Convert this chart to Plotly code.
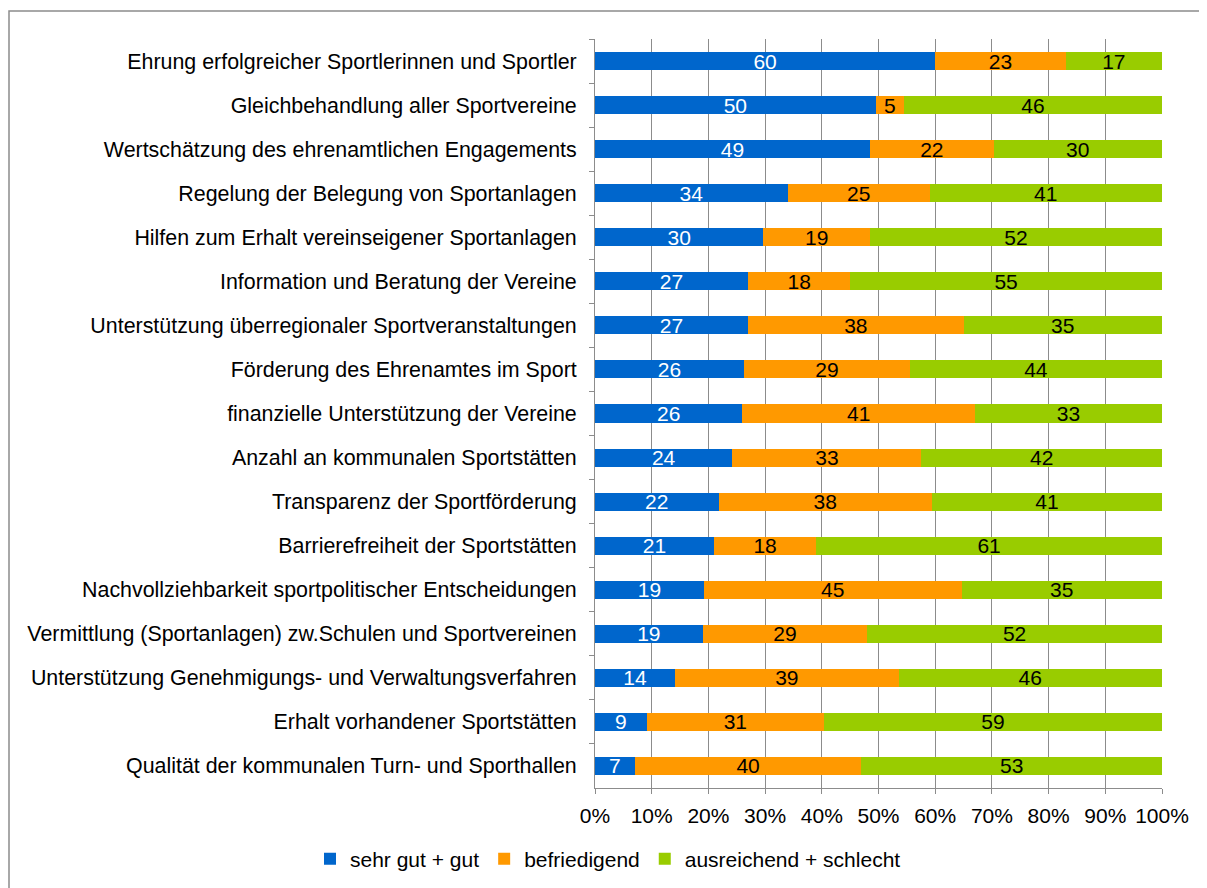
import plotly.graph_objects as go

categories = [
    "Ehrung erfolgreicher Sportlerinnen und Sportler",
    "Gleichbehandlung aller Sportvereine",
    "Wertschätzung des ehrenamtlichen Engagements",
    "Regelung der Belegung von Sportanlagen",
    "Hilfen zum Erhalt vereinseigener Sportanlagen",
    "Information und Beratung der Vereine",
    "Unterstützung überregionaler Sportveranstaltungen",
    "Förderung des Ehrenamtes im Sport",
    "finanzielle Unterstützung der Vereine",
    "Anzahl an kommunalen Sportstätten",
    "Transparenz der Sportförderung",
    "Barrierefreiheit der Sportstätten",
    "Nachvollziehbarkeit sportpolitischer Entscheidungen",
    "Vermittlung (Sportanlagen) zw.Schulen und Sportvereinen",
    "Unterstützung Genehmigungs- und Verwaltungsverfahren",
    "Erhalt vorhandener Sportstätten",
    "Qualität der kommunalen Turn- und Sporthallen",
]
sehr_gut = [60, 50, 49, 34, 30, 27, 27, 26, 26, 24, 22, 21, 19, 19, 14, 9, 7]
befriedigend = [23, 5, 22, 25, 19, 18, 38, 29, 41, 33, 38, 18, 45, 29, 39, 31, 40]
ausreichend = [17, 46, 30, 41, 52, 55, 35, 44, 33, 42, 41, 61, 35, 52, 46, 59, 53]
x_ticks = list(range(0, 101, 10))

FONT = "Liberation Sans, Arial, sans-serif"
FS = 21
series = [
    ("sehr gut + gut", sehr_gut, "#0066CC", "white"),
    ("befriedigend", befriedigend, "#FF9900", "black"),
    ("ausreichend + schlecht", ausreichend, "#99CC00", "black"),
]

# page body has an 8px margin, so the figure is laid out 8px up/left
L, T, R, B = 587, 31, 53, 108
pw, ph = 1207 - L - R, 888 - T - B

fig = go.Figure()
for name, vals, col, tcol in series:
    fig.add_trace(go.Bar(
        y=categories, x=vals, name=name, orientation="h",
        marker=dict(color=col, line=dict(width=0)),
        text=[str(v) for v in vals], textposition="inside",
        insidetextanchor="middle", textangle=0,
        textfont=dict(color=tcol, size=FS, family=FONT),
        hoverinfo="skip",
    ))

fig.update_layout(
    barmode="stack", barnorm="percent", bargap=0.59,
    width=1207, height=888,
    margin=dict(l=L, r=R, t=T, b=B),
    paper_bgcolor="white", plot_bgcolor="white",
    font=dict(family=FONT, size=FS, color="black"),
    uniformtext=dict(mode="show", minsize=FS),
    legend=dict(orientation="h", x=(302 - L) / pw, xanchor="left",
                y=(ph + T - 851) / ph, yanchor="middle",
                font=dict(size=FS), itemwidth=30, traceorder="normal"),
    shapes=[dict(type="rect", xref="paper", yref="paper",
                 x0=(1 - L) / pw, x1=1.2, y0=-0.3, y1=(ph + T - 3) / ph,
                 line=dict(color="#8c8c8c", width=1.5), layer="below")],
)
fig.update_xaxes(
    range=[0, 100], tickvals=x_ticks, ticktext=[f"{v}%" for v in x_ticks],
    showgrid=True, gridcolor="#8c8c8c", gridwidth=1,
    showline=True, linecolor="#8c8c8c", linewidth=1,
    ticks="outside", ticklen=5, tickcolor="#8c8c8c", zeroline=False,
    ticklabelstandoff=4,
)
fig.update_yaxes(
    autorange="reversed", showline=True, linecolor="#8c8c8c", linewidth=1,
    ticks="outside", ticklen=5, tickcolor="#8c8c8c", tickson="boundaries",
    ticklabelstandoff=13, showgrid=False, tickfont=dict(size=21.4),
)

fig.write_html("out.html")
